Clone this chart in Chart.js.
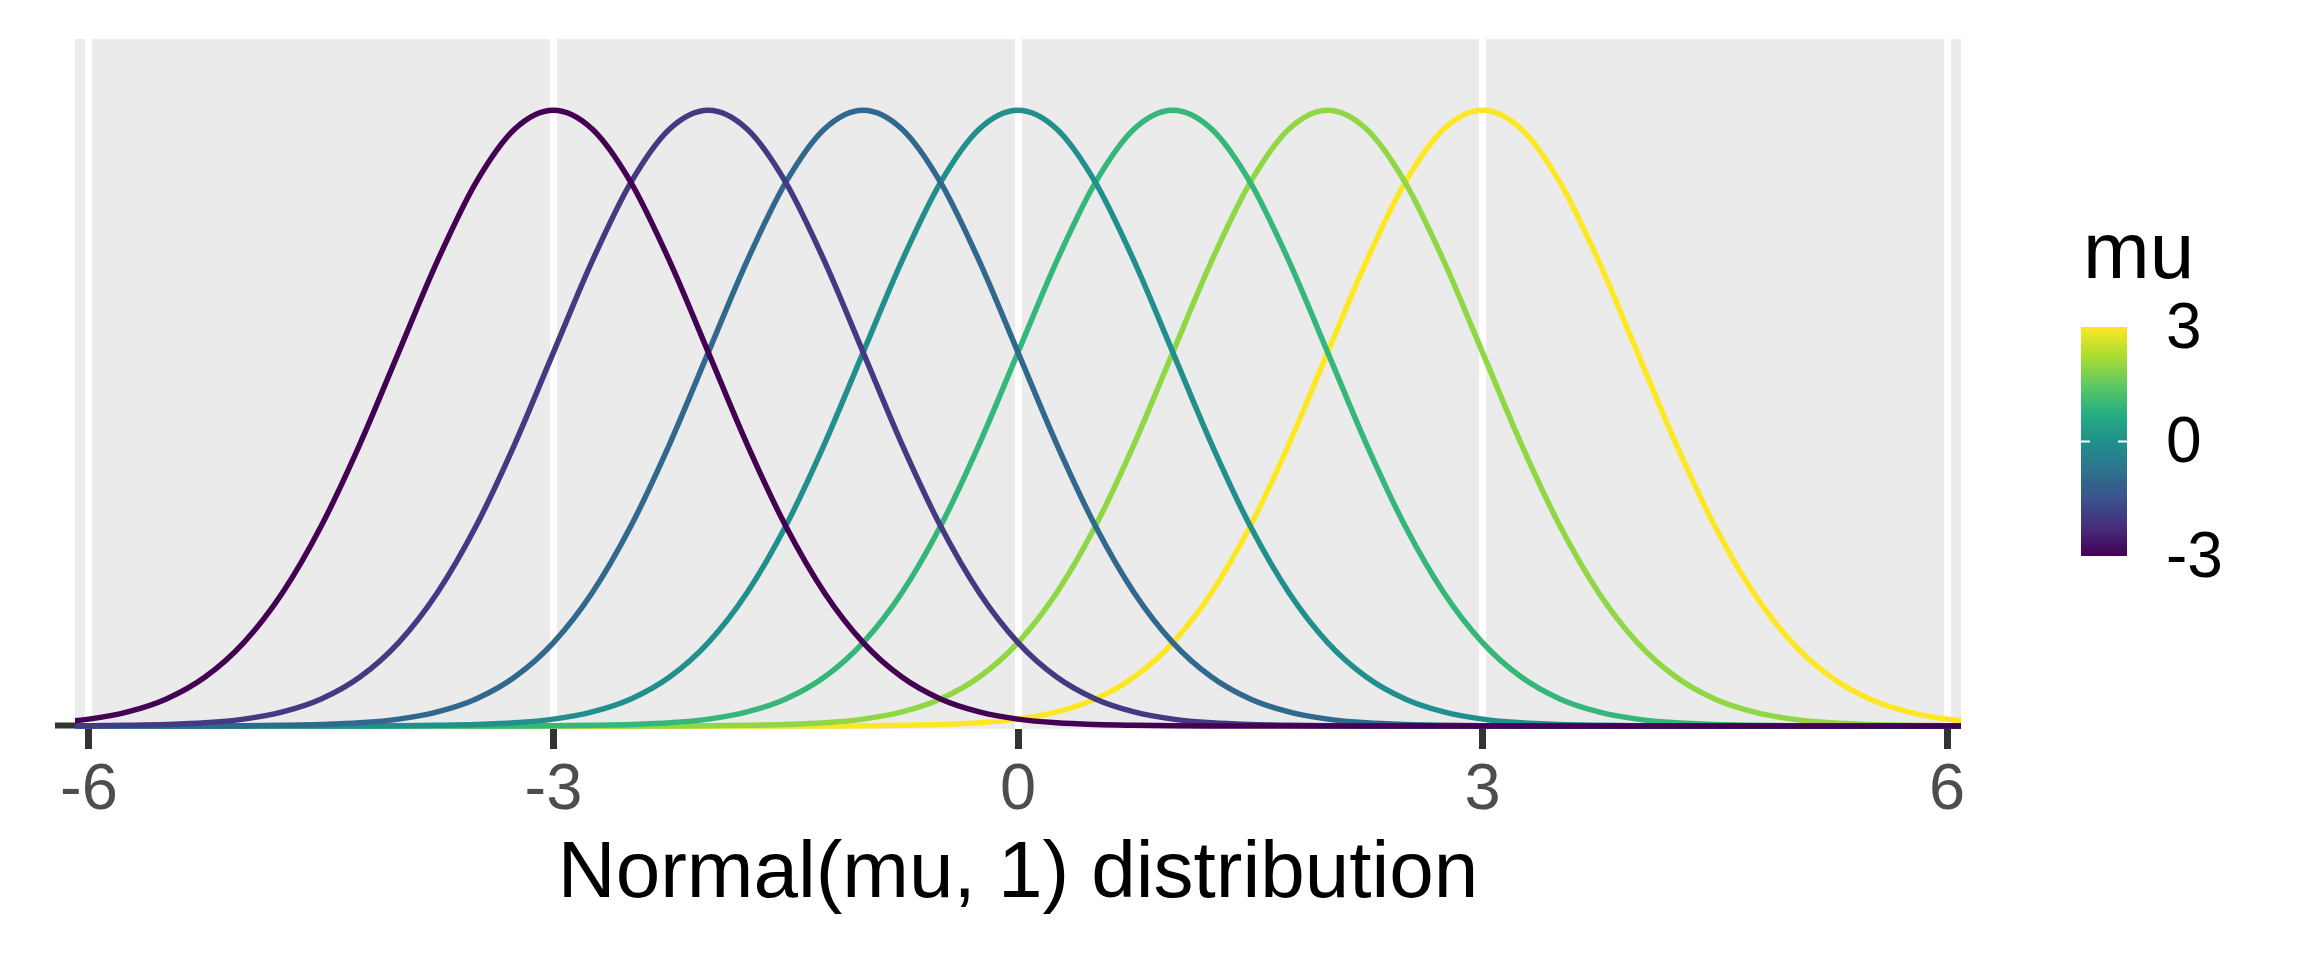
<!DOCTYPE html>
<html>
<head>
<meta charset="utf-8">
<script src="https://cdn.jsdelivr.net/npm/chart.js@4.4.1/dist/chart.umd.min.js"></script>
<style>
  html, body { margin: 0; padding: 0; background: #ffffff; }
  #wrap { width: 2304px; height: 960px; }
</style>
</head>
<body>
<div id="wrap"><canvas id="normChart" width="2304" height="960"></canvas></div>
<script>
// mean of each curve (one curve per mu)
const means = [-3, -2, -1, 0, 1, 2, 3];
// colour of each curve, viridis
const lineColors = ["#440154", "#443A83", "#31688E", "#21908C", "#35B779", "#8FD744", "#FDE725"];
// x positions where the curves are sampled
const gridX = [-6.25, -6, -5.75, -5.5, -5.25, -5, -4.75, -4.5, -4.25, -4, -3.75, -3.5, -3.25,
  -3, -2.75, -2.5, -2.25, -2, -1.75, -1.5, -1.25, -1, -0.75, -0.5, -0.25, 0,
  0.25, 0.5, 0.75, 1, 1.25, 1.5, 1.75, 2, 2.25, 2.5, 2.75, 3, 3.25, 3.5, 3.75,
  4, 4.25, 4.5, 4.75, 5, 5.25, 5.5, 5.75, 6, 6.25];
// curve height, at distance 0, 0.25, 0.5 ... from the mean
const density = [0.3989, 0.3867, 0.3521, 0.3011, 0.2420, 0.1826, 0.1295, 0.0863, 0.0540,
  0.0317, 0.0175, 0.0091, 0.0044, 0.0020, 0.0009, 0.0004, 0.0001, 0.0000];
const xTicks = [-6, -3, 0, 3, 6];
const legendTicks = [-3, 0, 3];

const datasets = means.map((mu, i) => ({
  label: "mu = " + mu,
  data: gridX.map((x) => ({ x: x, y: density[Math.round(Math.abs(x - mu) / 0.25)] ?? 0 })),
  borderColor: lineColors[i],
  borderWidth: 5.5,
  pointRadius: 0,
  cubicInterpolationMode: "monotone",
  fill: false,
}));

// grey panel behind the curves
const panelBg = {
  id: "panelBg",
  beforeDraw(chart) {
    const a = chart.chartArea;
    const ctx = chart.ctx;
    ctx.save();
    ctx.fillStyle = "#EBEBEB";
    ctx.fillRect(a.left, a.top, a.right - a.left, a.bottom - a.top);
    ctx.restore();
  },
};

// colourbar legend on the right
const colorBar = {
  id: "colorBar",
  afterDraw(chart) {
    const ctx = chart.ctx;
    const left = 2081, right = 2127, top = 327, bottom = 556;
    ctx.save();
    ctx.fillStyle = "#000000";
    ctx.font = "80px 'Liberation Sans', Arial, sans-serif";
    ctx.textBaseline = "alphabetic";
    ctx.textAlign = "left";
    ctx.fillText("mu", 2083, 278);

    const grad = ctx.createLinearGradient(0, bottom, 0, top);
    const stops = ["#440154", "#472D7B", "#3B528B", "#2C728E", "#21918C", "#28AE80", "#5EC962", "#ADDC30", "#FDE725"];
    stops.forEach((c, i) => grad.addColorStop(i / (stops.length - 1), c));
    ctx.fillStyle = grad;
    ctx.fillRect(left, top, right - left, bottom - top);

    const min = legendTicks[0], max = legendTicks[legendTicks.length - 1];
    ctx.font = "64px 'Liberation Sans', Arial, sans-serif";
    ctx.textBaseline = "middle";
    legendTicks.forEach((v) => {
      const y = bottom - (v - min) / (max - min) * (bottom - top);
      if (v > min && v < max) {
        ctx.strokeStyle = "#ffffff";
        ctx.lineWidth = 2;
        ctx.beginPath();
        ctx.moveTo(left, y); ctx.lineTo(left + 9, y);
        ctx.moveTo(right - 9, y); ctx.lineTo(right, y);
        ctx.stroke();
      }
      ctx.fillStyle = "#000000";
      ctx.fillText(String(v), 2166, y + 3);
    });
    ctx.restore();
  },
};

const ctx = document.getElementById("normChart").getContext("2d");
new Chart(ctx, {
  type: "line",
  data: { datasets: datasets },
  plugins: [panelBg, colorBar],
  options: {
    responsive: false,
    animation: false,
    devicePixelRatio: 1,
    layout: { padding: { top: 39, right: 343, left: 0, bottom: 0 } },
    plugins: { legend: { display: false }, tooltip: { enabled: false } },
    scales: {
      x: {
        type: "linear",
        min: -6.09,
        max: 6.09,
        afterBuildTicks: (axis) => { axis.ticks = xTicks.map((v) => ({ value: v })); },
        afterFit: (axis) => { axis.height = 231; },
        ticks: {
          autoSkip: false,
          maxRotation: 0,
          padding: 3,
          color: "#4D4D4D",
          font: { family: "'Liberation Sans', Arial, sans-serif", size: 65 },
          callback: (v) => String(v),
        },
        grid: {
          color: "#ffffff",
          lineWidth: 7,
          drawTicks: true,
          tickLength: 20,
          tickColor: "#333333",
          tickWidth: 7,
        },
        border: { display: false },
        title: {
          display: true,
          text: "Normal(mu, 1) distribution",
          color: "#000000",
          font: { family: "'Liberation Sans', Arial, sans-serif", size: 80 },
          padding: { top: 0, bottom: 37 },
        },
      },
      y: {
        type: "linear",
        min: -0.002,
        max: 0.445,
        afterBuildTicks: (axis) => { axis.ticks = [{ value: 0 }]; },
        afterFit: (axis) => { axis.width = 75; },
        ticks: { callback: () => "", padding: 0 },
        grid: {
          drawOnChartArea: false,
          drawTicks: true,
          tickLength: 20,
          tickColor: "#333333",
          tickWidth: 6,
        },
        border: { display: false },
      },
    },
  },
});
</script>
</body>
</html>
